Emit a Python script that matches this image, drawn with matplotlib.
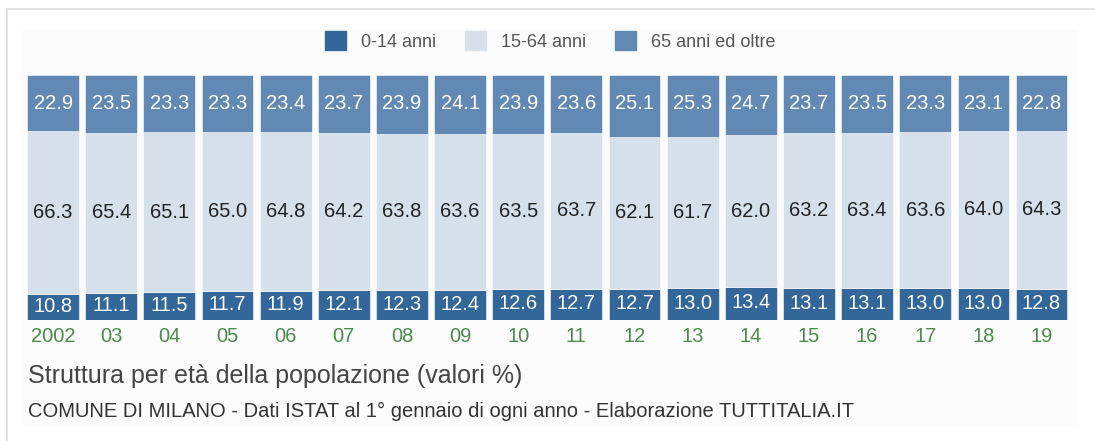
# Milano: struttura per età della popolazione, 2002-2019
import matplotlib.pyplot as plt
from matplotlib.patches import Rectangle

plt.rcParams['font.family'] = ['Liberation Sans', 'DejaVu Sans']

years = ['2002', '03', '04', '05', '06', '07', '08', '09', '10',
         '11', '12', '13', '14', '15', '16', '17', '18', '19']
young = [10.8, 11.1, 11.5, 11.7, 11.9, 12.1, 12.3, 12.4, 12.6,
         12.7, 12.7, 13.0, 13.4, 13.1, 13.1, 13.0, 13.0, 12.8]
adult = [66.3, 65.4, 65.1, 65.0, 64.8, 64.2, 63.8, 63.6, 63.5,
         63.7, 62.1, 61.7, 62.0, 63.2, 63.4, 63.6, 64.0, 64.3]
old = [22.9, 23.5, 23.3, 23.3, 23.4, 23.7, 23.9, 24.1, 23.9,
       23.6, 25.1, 25.3, 24.7, 23.7, 23.5, 23.3, 23.1, 22.8]
series_names = ['0-14 anni', '15-64 anni', '65 anni ed oltre']

c_young = '#336699'
c_adult = '#d6e0eb'
c_old = '#6189b4'

W, H = 1095, 441
fig = plt.figure(figsize=(W / 100, H / 100), dpi=100)

# frame + inner panel
fig.patches.append(Rectangle((7 / W, -0.1), 1.2, 1 - 9 / H + 0.1, transform=fig.transFigure,
                             facecolor='white', edgecolor='#dddddd', lw=1.2, zorder=-2))
fig.patches.append(Rectangle((22 / W, 1 - 425 / H), (1078 - 22) / W, (425 - 29) / H,
                             transform=fig.transFigure, facecolor='#fcfcfc', edgecolor='none',
                             zorder=-1))

ax = fig.add_axes([24 / W, 1 - 320 / H, 1046.6 / W, 245 / H])
ax.set_facecolor('none')
x = list(range(len(years)))
w = 0.89
bottoms2 = [a + b for a, b in zip(young, adult)]
ax.bar(x, young, w, color=c_young, edgecolor='white', lw=0.4)
ax.bar(x, adult, w, bottom=young, color=c_adult, edgecolor='white', lw=0.4)
ax.bar(x, old, w, bottom=bottoms2, color=c_old, edgecolor='white', lw=0.4)

for i in x:
    ax.text(i, young[i] / 2 + 0.3, f'{young[i]:.1f}', ha='center', va='center',
            color='white', fontsize=14.5)
    ax.text(i, young[i] + adult[i] / 2, f'{adult[i]:.1f}', ha='center', va='center',
            color='#222222', fontsize=14.5)
    ax.text(i, 100 - 11.5, f'{old[i]:.1f}', ha='center', va='center',
            color='white', fontsize=14.5)

ax.set_xlim(-0.5, len(years) - 0.5)
ax.set_ylim(0, 100)
ax.set_xticks(x)
ax.set_xticklabels(years, color='#4a8a4a', fontsize=14.5)
ax.tick_params(axis='x', length=0, pad=5)
ax.set_yticks([])
for s in ax.spines.values():
    s.set_visible(False)

# legend
handles = [Rectangle((0, 0), 1, 1, color=c) for c in (c_young, c_adult, c_old)]
fig.legend(handles, series_names, loc='center', bbox_to_anchor=(550 / W, 1 - 41 / H),
           ncol=3, frameon=False, fontsize=13, labelcolor='#555555',
           handlelength=1.2, handleheight=1.2, handletextpad=0.8, columnspacing=1.6)

fig.text(28 / W, 1 - 376 / H, 'Struttura per età della popolazione (valori %)',
         fontsize=18, color='#444444', va='center')
fig.text(28 / W, 1 - 411 / H,
         'COMUNE DI MILANO - Dati ISTAT al 1° gennaio di ogni anno - Elaborazione TUTTITALIA.IT',
         fontsize=14.5, color='#333333', va='center')

fig.savefig('out.png', dpi=100)
